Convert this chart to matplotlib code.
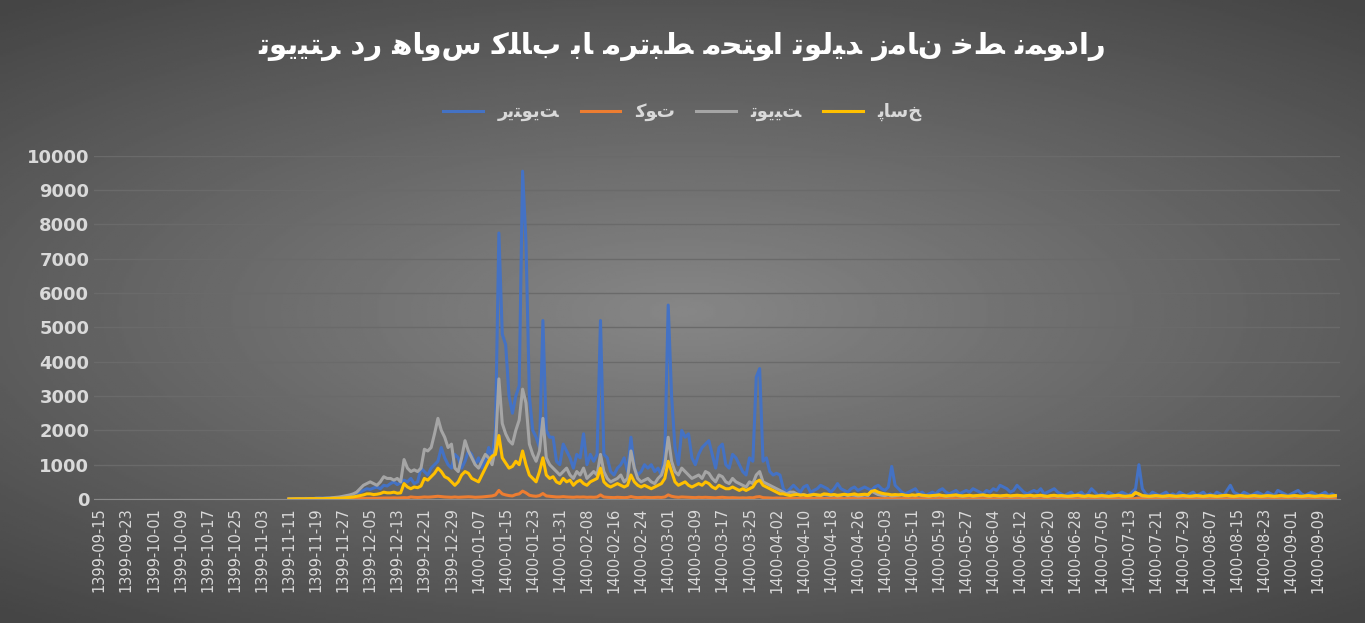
import numpy as np
import matplotlib
matplotlib.use("Agg")
import matplotlib.pyplot as plt

# ---- simple Persian shaping (contextual forms; the text renderer handles direction) ----
FORMS = {
    'ا': ('\uFE8D', '\uFE8E', None, None), 'ب': ('\uFE8F', '\uFE90', '\uFE91', '\uFE92'),
    'ت': ('\uFE95', '\uFE96', '\uFE97', '\uFE98'), 'ح': ('\uFEA1', '\uFEA2', '\uFEA3', '\uFEA4'),
    'خ': ('\uFEA5', '\uFEA6', '\uFEA7', '\uFEA8'), 'د': ('\uFEA9', '\uFEAA', None, None),
    'ر': ('\uFEAD', '\uFEAE', None, None), 'ز': ('\uFEAF', '\uFEB0', None, None),
    'س': ('\uFEB1', '\uFEB2', '\uFEB3', '\uFEB4'), 'ط': ('\uFEC1', '\uFEC2', '\uFEC3', '\uFEC4'),
    'ل': ('\uFEDD', '\uFEDE', '\uFEDF', '\uFEE0'), 'م': ('\uFEE1', '\uFEE2', '\uFEE3', '\uFEE4'),
    'ن': ('\uFEE5', '\uFEE6', '\uFEE7', '\uFEE8'), 'ه': ('\uFEE9', '\uFEEA', '\uFEEB', '\uFEEC'),
    'و': ('\uFEED', '\uFEEE', None, None), 'ی': ('\uFBFC', '\uFBFD', '\uFBFE', '\uFBFF'),
    'ک': ('\uFB8E', '\uFB8F', '\uFB90', '\uFB91'), 'پ': ('\uFB56', '\uFB57', '\uFB58', '\uFB59'),
}


def fa(s):
    out = []
    for i, c in enumerate(s):
        if c not in FORMS:
            out.append(c)
            continue
        prev = s[i - 1] if i > 0 else ' '
        nxt = s[i + 1] if i + 1 < len(s) else ' '
        jp = prev in FORMS and FORMS[prev][2] is not None
        jn = FORMS[c][2] is not None and nxt in FORMS
        f = FORMS[c]
        if jp and jn:
            out.append(f[3])
        elif jp:
            out.append(f[1])
        elif jn:
            out.append(f[2])
        else:
            out.append(f[0])
    return ''.join(out)


# ---- data: daily values, 1399-09-15 .. 1400-09-14 (data start 1399-11-11) ----
start_day = 56
n_days = 366

retweet = [
    0, 5, 10, 5, 10, 20, 10, 15, 20, 25,
    20, 30, 25, 30, 40, 50, 60, 80, 100, 120,
    150, 200, 250, 300, 280, 320, 350, 300, 400, 380,
    450, 500, 420, 480, 550, 500, 600, 450, 500, 900,
    800, 700, 900, 1000, 1100, 1500, 1200, 1000, 900, 1300,
    1200, 900, 1100, 1400, 1300, 1000, 1200, 900, 1100, 1500,
    1200, 2000, 7750, 4800, 4500, 3000, 2500, 3000, 3300, 9550,
    7500, 3000, 2000, 1800, 1500, 5200, 2000, 1800, 1800, 1100,
    1000, 1600, 1400, 1200, 900, 1300, 1200, 1900, 1000, 1300,
    1100, 1300, 5200, 1300, 1200, 800, 700, 900, 1000, 1200,
    800, 1800, 900, 700, 800, 1000, 900, 1000, 800, 900,
    700, 1300, 5650, 3000, 1500, 1000, 2000, 1800, 1900, 1200,
    1000, 1300, 1500, 1600, 1700, 1300, 900, 1500, 1600, 1000,
    900, 1300, 1200, 1000, 800, 700, 1200, 1100, 3550, 3800,
    1100, 1200, 800, 700, 750, 700, 300, 200, 300, 400,
    300, 200, 350, 400, 200, 250, 300, 400, 350, 300,
    200, 300, 450, 300, 250, 200, 300, 350, 250, 300,
    350, 300, 250, 350, 400, 300, 250, 350, 950, 400,
    300, 200, 150, 200, 250, 300, 150, 200, 100, 150,
    200, 150, 250, 300, 200, 150, 200, 250, 150, 200,
    250, 200, 300, 250, 200, 150, 250, 200, 300, 250,
    400, 350, 300, 200, 250, 400, 300, 200, 150, 200,
    250, 200, 300, 150, 200, 250, 300, 200, 150, 100,
    150, 200, 100, 150, 200, 100, 150, 300, 200, 100,
    150, 100, 200, 150, 100, 150, 200, 150, 100, 200,
    300, 1000, 300, 150, 100, 200, 150, 100, 150, 200,
    100, 150, 100, 200, 150, 100, 150, 200, 100, 150,
    200, 100, 150, 100, 200, 150, 100, 250, 400, 200,
    150, 100, 200, 150, 100, 150, 200, 150, 100, 200,
    150, 100, 250, 200, 150, 100, 150, 200, 250, 150,
    100, 150, 200, 150, 100, 150, 200, 100, 150, 100,
]

quote = [
    0, 0, 0, 0, 0, 0, 0, 0, 0, 0,
    0, 0, 0, 5, 5, 5, 10, 10, 10, 10,
    15, 15, 20, 20, 20, 25, 20, 25, 30, 30,
    30, 35, 30, 35, 40, 35, 60, 50, 45, 50,
    60, 55, 60, 70, 80, 70, 60, 55, 50, 60,
    50, 55, 60, 65, 60, 50, 55, 60, 70, 80,
    90, 120, 250, 150, 120, 100, 90, 130, 150, 230,
    180, 110, 90, 80, 100, 160, 90, 80, 70, 60,
    60, 70, 60, 55, 50, 60, 55, 60, 50, 55,
    50, 60, 120, 60, 50, 45, 40, 50, 45, 40,
    45, 70, 50, 40, 45, 50, 45, 40, 45, 50,
    45, 60, 120, 80, 60, 50, 60, 55, 50, 45,
    40, 50, 45, 50, 45, 40, 35, 45, 50, 40,
    35, 40, 35, 30, 35, 30, 40, 35, 60, 70,
    40, 35, 30, 25, 30, 25, 20, 15, 20, 20,
    15, 15, 20, 20, 15, 15, 20, 15, 15, 15,
    10, 15, 20, 15, 10, 15, 15, 20, 15, 15,
    15, 10, 15, 20, 15, 10, 15, 15, 30, 15,
    10, 10, 15, 10, 10, 15, 10, 10, 10, 15,
    10, 10, 15, 10, 10, 10, 15, 10, 10, 10,
    10, 10, 15, 10, 10, 10, 10, 15, 10, 10,
    15, 10, 10, 10, 10, 15, 10, 10, 10, 10,
    10, 10, 10, 10, 15, 10, 10, 10, 10, 10,
    10, 15, 10, 10, 10, 10, 10, 15, 10, 10,
    10, 10, 10, 10, 15, 10, 10, 10, 10, 10,
    15, 30, 15, 10, 10, 10, 10, 10, 10, 10,
    10, 10, 10, 10, 10, 10, 10, 10, 10, 10,
    10, 10, 10, 10, 10, 10, 10, 10, 15, 10,
    10, 10, 10, 10, 10, 10, 10, 10, 10, 10,
    10, 10, 10, 10, 10, 10, 10, 10, 10, 10,
    10, 10, 10, 10, 10, 10, 10, 10, 10, 10,
]

tweet = [
    0, 5, 5, 10, 5, 10, 15, 10, 20, 20,
    20, 25, 30, 40, 50, 60, 80, 100, 120, 150,
    200, 300, 400, 450, 500, 450, 400, 500, 650, 600,
    600, 550, 600, 500, 1150, 900, 800, 850, 800, 900,
    1450, 1400, 1500, 1900, 2350, 2000, 1800, 1500, 1600, 900,
    800, 1200, 1700, 1400, 1200, 1000, 900, 1100, 1300, 1200,
    1000, 1500, 3500, 2200, 1900, 1700, 1600, 2000, 2300, 3200,
    2800, 1600, 1300, 1100, 1400, 2350, 1200, 1000, 900, 800,
    700, 800, 900, 700, 600, 800, 700, 900, 600, 700,
    800, 700, 1300, 800, 600, 500, 550, 600, 700, 500,
    600, 1400, 900, 600, 500, 550, 600, 500, 450, 600,
    700, 1000, 1800, 1100, 800, 700, 900, 800, 700, 600,
    650, 700, 600, 800, 750, 600, 500, 700, 650, 500,
    450, 600, 500, 450, 400, 350, 500, 450, 700, 800,
    500, 450, 400, 350, 300, 250, 200, 150, 200, 200,
    150, 120, 130, 100, 120, 140, 110, 100, 130, 120,
    100, 120, 90, 110, 130, 100, 120, 110, 90, 100,
    120, 100, 230, 180, 130, 110, 100, 120, 90, 100,
    110, 120, 100, 90, 110, 100, 120, 100, 90, 80,
    100, 90, 110, 100, 80, 90, 100, 110, 90, 80,
    90, 100, 80, 90, 100, 110, 90, 80, 100, 90,
    80, 90, 100, 80, 90, 100, 90, 80, 90, 100,
    80, 90, 100, 80, 70, 90, 100, 80, 90, 80,
    70, 80, 90, 100, 80, 70, 90, 80, 70, 80,
    90, 80, 70, 80, 90, 100, 80, 70, 80, 90,
    200, 130, 90, 80, 70, 80, 90, 80, 70, 80,
    90, 80, 70, 80, 90, 80, 70, 80, 90, 80,
    70, 80, 90, 80, 70, 80, 90, 100, 80, 70,
    80, 90, 80, 70, 80, 90, 80, 70, 80, 90,
    80, 70, 80, 90, 80, 70, 80, 90, 80, 70,
    80, 90, 80, 70, 80, 90, 80, 70, 80, 90,
]

reply = [
    0, 0, 5, 5, 5, 5, 10, 10, 10, 10,
    10, 15, 15, 20, 20, 25, 30, 40, 50, 60,
    80, 100, 120, 150, 150, 130, 140, 160, 200, 180,
    180, 200, 170, 180, 450, 350, 300, 350, 330, 380,
    600, 550, 650, 750, 900, 800, 650, 600, 500, 400,
    500, 700, 800, 750, 600, 550, 500, 700, 900, 1100,
    1250, 1300, 1850, 1200, 1050, 900, 950, 1100, 1000, 1400,
    1000, 700, 600, 500, 800, 1200, 700, 600, 650, 500,
    450, 600, 500, 550, 400, 500, 550, 450, 400, 500,
    550, 600, 900, 500, 400, 350, 400, 450, 400, 350,
    400, 700, 500, 400, 350, 400, 350, 300, 350, 400,
    450, 600, 1100, 800, 500, 400, 450, 500, 400, 350,
    400, 450, 400, 500, 450, 350, 300, 400, 350, 300,
    300, 350, 300, 250, 300, 250, 300, 350, 500, 550,
    400, 350, 300, 250, 200, 150, 150, 120, 100, 120,
    130, 110, 120, 100, 110, 130, 120, 110, 150, 140,
    120, 130, 110, 120, 140, 120, 130, 150, 120, 130,
    140, 130, 220, 250, 200, 170, 150, 140, 120, 130,
    120, 130, 110, 100, 120, 110, 130, 110, 100, 90,
    100, 110, 120, 100, 90, 100, 110, 120, 100, 90,
    100, 110, 90, 100, 110, 120, 100, 90, 110, 100,
    90, 100, 110, 90, 100, 110, 100, 90, 100, 110,
    90, 100, 110, 90, 80, 100, 110, 90, 100, 90,
    80, 90, 100, 110, 90, 80, 100, 90, 80, 90,
    100, 90, 80, 90, 100, 110, 90, 80, 90, 100,
    180, 150, 100, 90, 80, 90, 100, 90, 80, 90,
    100, 90, 80, 90, 100, 90, 80, 90, 100, 90,
    80, 90, 100, 90, 80, 90, 100, 110, 90, 80,
    90, 100, 90, 80, 90, 100, 90, 80, 90, 100,
    90, 80, 90, 100, 90, 80, 90, 100, 90, 80,
    90, 100, 90, 80, 90, 100, 90, 80, 90, 100,
]

series_names = ['ریتویت', 'کوت', 'توییت', 'پاسخ']
series_colors = ['#4472C4', '#ED7D31', '#A5A5A5', '#FFC000']
title = 'نمودار خط زمان تولید محتوا مرتبط با کلاب هاوس در توییتر'

# Persian calendar day labels (1399 is a leap year: esfand has 30 days)
month_len_1399 = [31, 31, 31, 31, 31, 31, 30, 30, 30, 30, 30, 30]
month_len_1400 = [31, 31, 31, 31, 31, 31, 30, 30, 30, 30, 30, 29]
dates = []
y, m, d = 1399, 9, 15
for _ in range(n_days):
    dates.append(f'{y}-{m:02d}-{d:02d}')
    ml = (month_len_1399 if y == 1399 else month_len_1400)[m - 1]
    d += 1
    if d > ml:
        d, m = 1, m + 1
        if m > 12:
            m, y = 1, y + 1

# ---- figure ----
fig = plt.figure(figsize=(13.65, 6.23), dpi=100)
bg = fig.add_axes([0, 0, 1, 1], zorder=-10)
yy, xx = np.mgrid[-1:1:300j, -1:1:600j]
r = np.sqrt((xx / 1.1) ** 2 + (yy / 0.9) ** 2)
bg.imshow(np.clip(r, 0, 1.4), cmap='gray_r', vmin=-2.6, vmax=2.9,
          aspect='auto', extent=[0, 1, 0, 1])
bg.axis('off')

ax = fig.add_axes([0.069, 0.199, 0.913, 0.551])
ax.patch.set_alpha(0)
x = np.arange(start_day, n_days)
for vals, name, col in zip([retweet, quote, tweet, reply], series_names, series_colors):
    ax.plot(x, vals, color=col, lw=2.2, label=fa(name), solid_joinstyle='round')

ax.set_xlim(-1.5, n_days + 0.5)
ax.set_ylim(0, 10000)
ax.set_yticks(np.arange(0, 10001, 1000))
ax.yaxis.grid(True, color='#6a6a6a', lw=1)
ax.set_axisbelow(True)
ticks = np.arange(0, n_days, 8)
ax.set_xticks(ticks)
ax.set_xticklabels([dates[i] for i in ticks], rotation=90, fontsize=10.5, color='#d9d9d9')
ax.tick_params(axis='y', labelsize=13, colors='#d9d9d9', length=0)
ax.tick_params(axis='x', length=0, pad=6)
for lb in ax.get_yticklabels():
    lb.set_fontweight('bold')
for s in ['top', 'right', 'left']:
    ax.spines[s].set_visible(False)
ax.spines['bottom'].set_color('#8a8a8a')

# the reference shows the title words laid out left to right
title_shown = ' '.join(fa(w) for w in title.split()[::-1])
fig.text(0.5, 0.925, title_shown, ha='center', va='center', fontsize=21,
         fontweight='bold', color='white', family='DejaVu Sans')
leg = fig.legend(loc='center', bbox_to_anchor=(0.5, 0.82), ncol=4, frameon=False,
                 fontsize=13, handlelength=2.2, columnspacing=1.2)
for t in leg.get_texts():
    t.set_color('#d9d9d9')
    t.set_fontweight('bold')

fig.savefig('out.png', dpi=100)
